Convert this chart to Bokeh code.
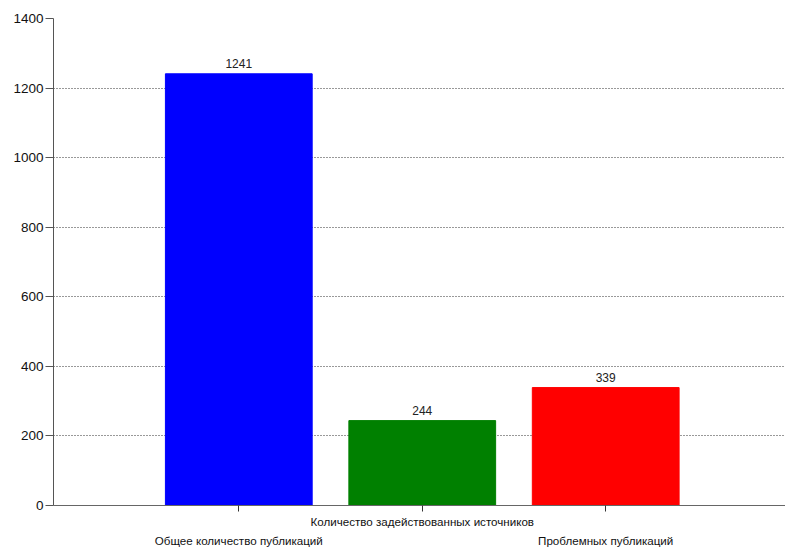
from bokeh.plotting import figure
from bokeh.models import Range1d, FixedTicker, LinearAxis, ColumnDataSource
from bokeh.embed import file_html
from bokeh.resources import INLINE
from bokeh.core.properties import value

categories = ["Общее количество публикаций", "Количество задействованных источников", "Проблемных публикаций"]
values = [1241, 244, 339]
colors = ["#0000FF", "#008000", "#FF0000"]
positions = [1, 2, 3]
y_ticks = [0, 200, 400, 600, 800, 1000, 1200, 1400]

FONT = "Liberation Sans"

p = figure(width=785, height=549, output_backend="svg", toolbar_location=None,
           x_range=Range1d(-0.01, 3.98), y_range=Range1d(0, 1400),
           min_border_left=53, min_border_right=0, min_border_top=18, min_border_bottom=43)
p.outline_line_color = None
p.background_fill_color = "white"
p.border_fill_color = "white"

src = ColumnDataSource(dict(x=positions, top=values, color=colors, label=[str(v) for v in values]))
p.vbar(x="x", top="top", width=0.8, bottom=0, color="color", source=src)
p.text(x="x", y="top", text="label", source=src, text_align="center", text_baseline="bottom",
       y_offset=-6, text_font=value(FONT), text_font_size="12px", text_color="#222222")

# y axis
p.yaxis.ticker = FixedTicker(ticks=y_ticks)
p.yaxis.major_tick_out = 8
p.yaxis.major_tick_in = 0
p.yaxis.minor_tick_line_color = None
p.yaxis.major_label_standoff = 2
p.yaxis.major_label_text_font = FONT
p.yaxis.major_label_text_font_size = "13.5px"
p.yaxis.major_label_text_color = "#111111"
p.yaxis.axis_line_color = "#555555"
p.yaxis.major_tick_line_color = "#555555"

# x axis (first row labels)
p.xaxis.ticker = FixedTicker(ticks=positions)
p.xaxis.major_label_overrides = {1: "", 2: categories[1], 3: ""}
p.xaxis.major_tick_out = 6
p.xaxis.major_tick_in = 0
p.xaxis.minor_tick_line_color = None
p.xaxis.major_label_standoff = 3
p.xaxis.major_label_text_font = FONT
p.xaxis.major_label_text_font_size = "11.6px"
p.xaxis.major_label_text_color = "#111111"
p.xaxis.axis_line_color = "#666666"
p.xaxis.major_tick_line_color = "#333333"

# second row labels
ax2 = LinearAxis(ticker=FixedTicker(ticks=[1, 3]),
                 major_label_overrides={1: categories[0], 3: categories[2]})
ax2.axis_line_color = None
ax2.major_tick_line_color = None
ax2.minor_tick_line_color = None
ax2.major_label_standoff = -3
ax2.major_label_text_font = FONT
ax2.major_label_text_font_size = "11.6px"
ax2.major_label_text_color = "#111111"
p.add_layout(ax2, "below")

p.xgrid.grid_line_color = None
p.ygrid.ticker = FixedTicker(ticks=y_ticks)
p.ygrid.grid_line_color = "#333333"
p.ygrid.grid_line_dash = "1 2"
p.ygrid.grid_line_width = 1

open("out.html", "w").write(file_html(p, INLINE))
